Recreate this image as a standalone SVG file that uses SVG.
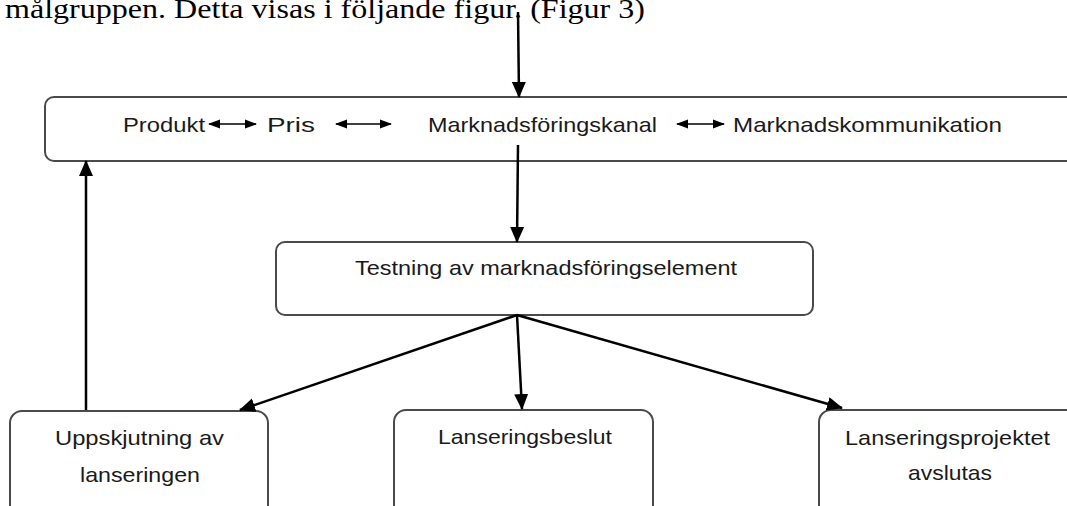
<svg xmlns="http://www.w3.org/2000/svg" width="1067" height="506" viewBox="0 0 1067 506">
  <style>
    .box { fill: #ffffff; stroke: #4a4a4a; stroke-width: 2; }
    .lbl { font-family: "Liberation Sans", Arial, sans-serif; font-size: 21px; fill: #1a1a1a; }
    .body { font-family: "Liberation Serif", "Times New Roman", serif; font-size: 28px; fill: #000; }
    .conn { stroke: #000; stroke-width: 2.5; fill: none; marker-end: url(#head); }
    .dbl { stroke: #000; stroke-width: 1.6; fill: none; marker-start: url(#small); marker-end: url(#small); }
  </style>
  <defs>
    <marker id="head" markerUnits="userSpaceOnUse" markerWidth="16" markerHeight="16" viewBox="0 0 16 16" refX="15" refY="8" orient="auto">
      <path d="M0,1 L16,8 L0,15 Z" fill="#000"/>
    </marker>
    <marker id="small" markerUnits="userSpaceOnUse" markerWidth="12" markerHeight="10" viewBox="0 0 12 10" refX="11" refY="5" orient="auto-start-reverse">
      <path d="M0,0.5 L12,5 L0,9.5 Z" fill="#000"/>
    </marker>
  </defs>

  <!-- running text above the figure -->
  <text class="body" x="5" y="18" textLength="640" lengthAdjust="spacingAndGlyphs">målgruppen. Detta visas i följande figur. (Figur 3)</text>

  <!-- marketing mix row -->
  <g id="mix">
    <rect class="box" x="45" y="97" width="1040" height="64" rx="9"/>
    <text class="lbl" x="123" y="132" textLength="82" lengthAdjust="spacingAndGlyphs">Produkt</text>
    <line class="dbl" x1="209" y1="124" x2="256" y2="124"/>
    <text class="lbl" x="267" y="132" textLength="48" lengthAdjust="spacingAndGlyphs">Pris</text>
    <line class="dbl" x1="336" y1="124" x2="391" y2="124"/>
    <text class="lbl" x="428" y="132" textLength="229" lengthAdjust="spacingAndGlyphs">Marknadsföringskanal</text>
    <line class="dbl" x1="677" y1="124" x2="724" y2="124"/>
    <text class="lbl" x="733" y="132" textLength="269" lengthAdjust="spacingAndGlyphs">Marknadskommunikation</text>
  </g>

  <g id="testing">
    <rect class="box" x="276" y="242" width="537" height="73" rx="9"/>
    <text class="lbl" x="355" y="275" textLength="382" lengthAdjust="spacingAndGlyphs">Testning av marknadsföringselement</text>
  </g>

  <g id="postpone">
    <rect class="box" x="10" y="411" width="258" height="120" rx="12"/>
    <text class="lbl" x="55" y="445" textLength="169" lengthAdjust="spacingAndGlyphs">Uppskjutning av</text>
    <text class="lbl" x="80" y="482" textLength="120" lengthAdjust="spacingAndGlyphs">lanseringen</text>
  </g>

  <g id="decision">
    <rect class="box" x="394" y="410" width="259" height="120" rx="12"/>
    <text class="lbl" x="438" y="444" textLength="174" lengthAdjust="spacingAndGlyphs">Lanseringsbeslut</text>
  </g>

  <g id="closing">
    <rect class="box" x="819" y="410" width="270" height="120" rx="12"/>
    <text class="lbl" x="845" y="445" textLength="205" lengthAdjust="spacingAndGlyphs">Lanseringsprojektet</text>
    <text class="lbl" x="908" y="480" textLength="84" lengthAdjust="spacingAndGlyphs">avslutas</text>
  </g>

  <g id="connectors">
    <line class="conn" x1="518" y1="12" x2="519" y2="97"/>
    <line class="conn" x1="518" y1="145" x2="517" y2="242"/>
    <line class="conn" x1="517" y1="315" x2="240" y2="410"/>
    <line class="conn" x1="517" y1="315" x2="522" y2="409"/>
    <line class="conn" x1="517" y1="315" x2="842" y2="408"/>
    <line class="conn" x1="86" y1="410" x2="86" y2="161"/>
  </g>
</svg>
